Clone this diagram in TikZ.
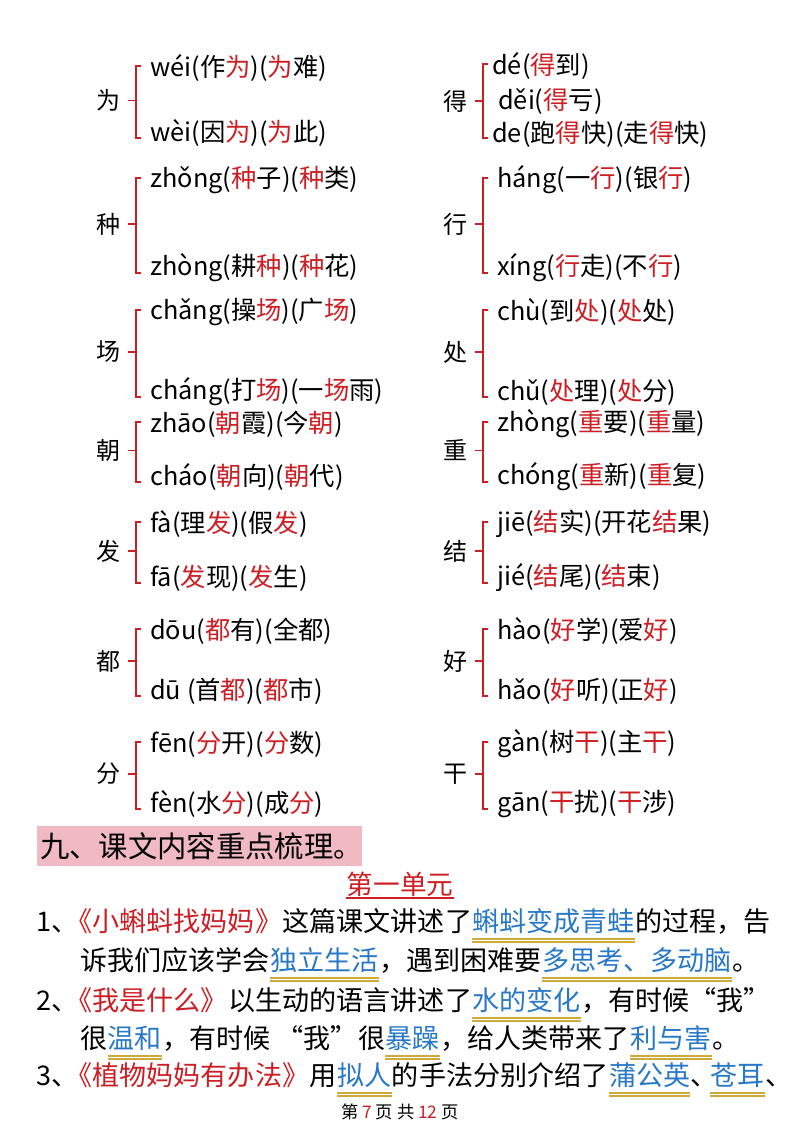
\documentclass[tikz,border=0pt]{standalone}
\usepackage{fontspec}
\setmainfont{Noto Sans CJK SC}
\begin{document}
\definecolor{myred}{RGB}{205,30,35}
\definecolor{myblue}{RGB}{40,120,200}
\definecolor{gold}{RGB}{205,170,60}
\definecolor{pinkbg}{RGB}{240,185,195}
\newcommand\rd[1]{\textcolor{myred}{#1}}
\begin{tikzpicture}[x=0.75pt,y=-0.75pt,
  hd/.style={font=\fontsize{18}{20}\selectfont,inner sep=0pt},
  py/.style={font=\fontsize{19}{21}\selectfont,inner sep=0pt,anchor=west},
  br/.style={draw=myred,line width=1pt},
  pg/.style={font=\fontsize{20.3}{22}\selectfont,inner sep=0pt,anchor=base west},
  bl/.style={pg,text=myblue},
  ti/.style={pg,text=myred},
  ul/.style={draw=gold,line width=0.9pt}]
\useasboundingbox (0,0) rectangle (800,1132);
\newcommand\pent[6]{%
  \node[hd] (#1h) at (#2,{(#3+#4)/2}) {#1};
  \draw[br] (#2+33,#3-2) -- (#2+28,#3-2) -- (#2+28,#4+5) -- (#2+33,#4+5);
  \draw[br] (#2+20,{(#3+#4)/2}) -- (#2+28,{(#3+#4)/2});
  \node[py] (#1a) at (#2+42,#3) {#5};
  \node[py] (#1b) at (#2+42,#4) {#6};}
\pent{为}{108}{68}{133}{wéi(作\rd{为})(\rd{为}难)}{wèi(因\rd{为})(\rd{为}此)}
\pent{种}{108}{180}{268}{zhǒng(\rd{种}子)(\rd{种}类)}{zhòng(耕\rd{种})(\rd{种}花)}
\pent{场}{108}{312}{392}{chǎng(操\rd{场})(广\rd{场})}{cháng(打\rd{场})(一\rd{场}雨)}
\pent{朝}{108}{424}{477}{zhāo(\rd{朝}霞)(今\rd{朝})}{cháo(\rd{朝}向)(\rd{朝}代)}
\pent{发}{108}{524}{578}{fà(理\rd{发})(假\rd{发})}{fā(\rd{发}现)(\rd{发}生)}
\pent{都}{108}{631}{691}{dōu(\rd{都}有)(全都)}{dū (首\rd{都})(\rd{都}市)}
\pent{分}{108}{744}{804}{fēn(\rd{分}开)(\rd{分}数)}{fèn(水\rd{分})(成\rd{分})}
\pent{行}{455}{180}{268}{háng(一\rd{行})(银\rd{行})}{xíng(\rd{行}走)(不\rd{行})}
\pent{处}{455}{312}{392}{chù(到\rd{处})(\rd{处}处)}{chǔ(\rd{处}理)(\rd{处}分)}
\pent{重}{455}{424}{477}{zhòng(\rd{重}要)(\rd{重}量)}{chóng(\rd{重}新)(\rd{重}复)}
\pent{结}{455}{524}{578}{jiē(\rd{结}实)(开花\rd{结}果)}{jié(\rd{结}尾)(\rd{结}束)}
\pent{好}{455}{631}{691}{hào(\rd{好}学)(爱\rd{好})}{hǎo(\rd{好}听)(正\rd{好})}
\pent{干}{455}{744}{804}{gàn(树\rd{干})(主\rd{干})}{gān(\rd{干}扰)(\rd{干}涉)}
% 得
\node[hd] (dh) at (455,101) {得};
\draw[br] (488,64) -- (483,64) -- (483,138) -- (488,138);
\draw[br] (475,101) -- (483,101);
\node[py] (d1) at (492,66) {dé(\rd{得}到)};
\node[py] (d2) at (498,101) {děi(\rd{得}亏)};
\node[py] (d3) at (492,134) {de(跑\rd{得}快)(走\rd{得}快)};
% heading
\fill[pinkbg] (37,826) rectangle (362,866);
\node[font=\fontsize{22}{24}\selectfont,anchor=west,inner sep=0pt] (htxt) at (40,846) {九、课文内容重点梳理。};
\node[font=\fontsize{20}{22}\selectfont,text=myred,inner sep=0pt] (unit) at (400,884) {第一单元};
\draw[draw=myred,line width=2pt] ([yshift=-1pt]unit.south west) -- ([yshift=-1pt]unit.south east);
% paragraph
\newcommand\uln[1]{\draw[ul] ([yshift=-6pt]#1.base west) -- ([yshift=-6pt]#1.base east);
  \draw[ul] ([yshift=-8.2pt]#1.base west) -- ([yshift=-8.2pt]#1.base east);}
\node[pg] (a1) at (36,931) {1、};
\node[ti] (a2) at ([xshift=-10pt]a1.base east) {《小蝌蚪找妈妈》};
\node[pg] (a3) at (a2.base east) {这篇课文讲述了};
\node[bl] (a4) at (a3.base east) {蝌蚪变成青蛙}; \uln{a4}
\node[pg] (a5) at (a4.base east) {的过程，告};
\node[pg] (b1) at (80,970) {诉我们应该学会};
\node[bl] (b2) at (b1.base east) {独立生活}; \uln{b2}
\node[pg] (b3) at (b2.base east) {，遇到困难要};
\node[bl] (b4) at (b3.base east) {多思考、多动脑}; \uln{b4}
\node[pg] (b5) at (b4.base east) {。};
\node[pg] (c1) at (36,1010) {2、};
\node[ti] (c2) at ([xshift=-10pt]c1.base east) {《我是什么》};
\node[pg] (c3) at (c2.base east) {以生动的语言讲述了};
\node[bl] (c4) at (c3.base east) {水的变化}; \uln{c4}
\node[pg] (c5) at (c4.base east) {，有时候“我”};
\node[pg] (e1) at (80,1048) {很};
\node[bl] (e2) at (e1.base east) {温和}; \uln{e2}
\node[pg] (e3) at (e2.base east) {，有时候 “我”很};
\node[bl] (e4) at (e3.base east) {暴躁}; \uln{e4}
\node[pg] (e5) at (e4.base east) {，给人类带来了};
\node[bl] (e6) at (e5.base east) {利与害}; \uln{e6}
\node[pg] (e7) at (e6.base east) {。};
\node[pg] (f1) at (36,1085) {3、};
\node[ti] (f2) at ([xshift=-10pt]f1.base east) {《植物妈妈有办法》};
\node[pg] (f3) at (f2.base east) {用};
\node[bl] (f4) at (f3.base east) {拟人}; \uln{f4}
\node[pg] (f5) at (f4.base east) {的手法分别介绍了};
\node[bl] (f6) at (f5.base east) {蒲公英}; \uln{f6}
\node[pg] (f7) at (f6.base east) {、};
\node[bl] (f8) at ([xshift=-6pt]f7.base east) {苍耳}; \uln{f8}
\node[pg] (f9) at (f8.base east) {、};
\node[font=\fontsize{13}{15}\selectfont,inner sep=0pt] (foot) at (400,1112) {第 \rd{7} 页 共 \rd{12} 页};
\end{tikzpicture}
\end{document}
